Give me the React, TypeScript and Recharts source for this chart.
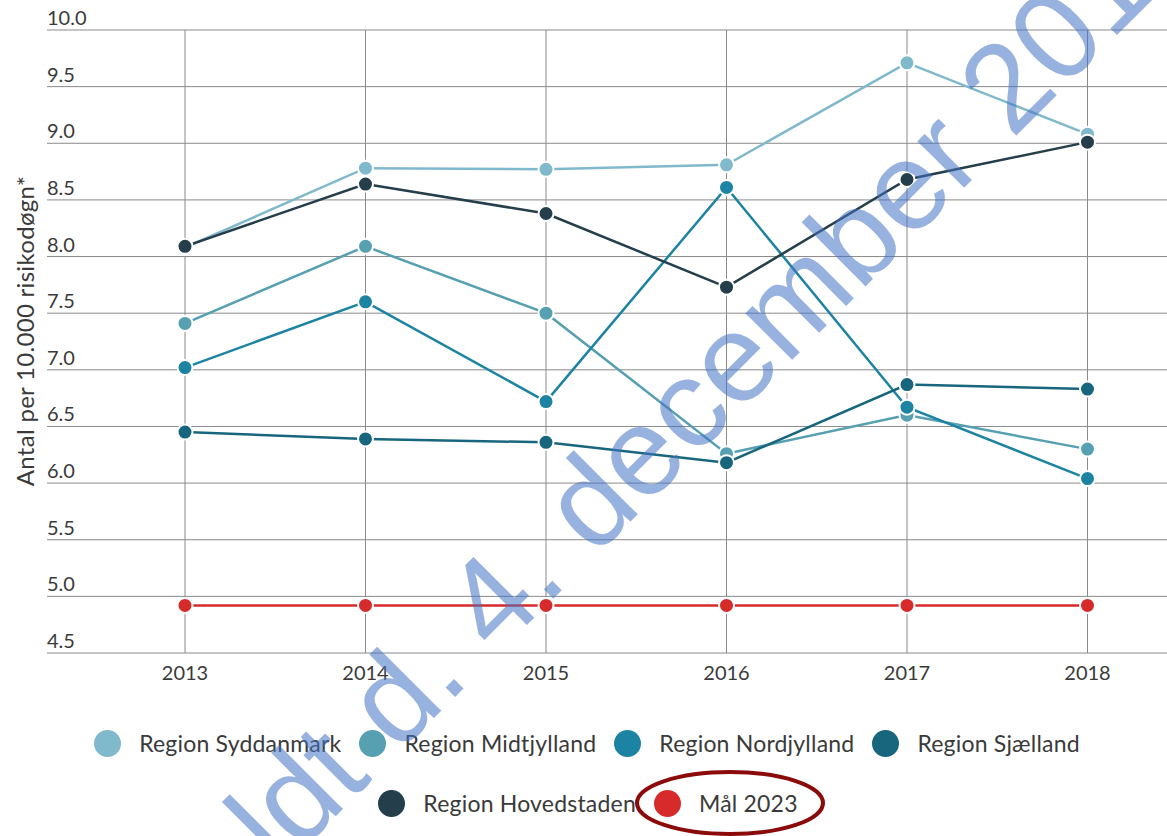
import { LineChart, Line, XAxis, YAxis, CartesianGrid } from "recharts";

const YEARS = ["2013", "2014", "2015", "2016", "2017", "2018"];
const Y_TICKS = [4.5, 5, 5.5, 6, 6.5, 7, 7.5, 8, 8.5, 9, 9.5, 10];

const SYDDANMARK = [8.08, 8.78, 8.77, 8.81, 9.71, 9.08];
const MIDTJYLLAND = [7.41, 8.09, 7.5, 6.26, 6.6, 6.3];
const NORDJYLLAND = [7.02, 7.6, 6.72, 8.61, 6.67, 6.04];
const SJAELLAND = [6.45, 6.39, 6.36, 6.18, 6.87, 6.83];
const HOVEDSTADEN = [8.09, 8.64, 8.38, 7.73, 8.68, 9.01];
const MAAL_2023 = [4.92, 4.92, 4.92, 4.92, 4.92, 4.92];

const SERIES = [
  { key: "syd", name: "Region Syddanmark", values: SYDDANMARK, color: "#80b9cc" },
  { key: "midt", name: "Region Midtjylland", values: MIDTJYLLAND, color: "#57a0b1" },
  { key: "nord", name: "Region Nordjylland", values: NORDJYLLAND, color: "#1c84a2" },
  { key: "sj", name: "Region Sjælland", values: SJAELLAND, color: "#17667d" },
  { key: "hov", name: "Region Hovedstaden", values: HOVEDSTADEN, color: "#243e4b" },
  { key: "maal", name: "Mål 2023", values: MAAL_2023, color: "#d62b2a" },
];

const data = YEARS.map((year, i) => {
  const row: Record<string, any> = { year };
  SERIES.forEach((s) => (row[s.key] = s.values[i]));
  return row;
});

const FONT = "Lato, 'Open Sans', sans-serif";
const TEXT = "#3a3a3a";

const YTick = (props: any) => {
  const { x, y, payload } = props;
  return (
    <text x={x} y={y - 5} textAnchor="start" fill={TEXT} fontSize={20} fontFamily={FONT}>
      {Number(payload.value).toFixed(1)}
    </text>
  );
};

const yTitle = () => (
  <text
    x={24}
    y={331}
    transform="rotate(-90 24 331)"
    textAnchor="middle"
    dominantBaseline="central"
    fill={TEXT}
    fontSize={24}
    letterSpacing={0.3}
    fontFamily={FONT}
  >
    Antal per 10.000 risikodøgn*
  </text>
);

function LegendItem({ name, color }: { name: string; color: string }) {
  return (
    <div style={{ display: "flex", alignItems: "center", gap: 18 }}>
      <span style={{ width: 27, height: 27, borderRadius: "50%", background: color, display: "inline-block" }} />
      <span style={{ fontSize: 23, letterSpacing: 0.2, color: TEXT, fontFamily: FONT, whiteSpace: "nowrap" }}>{name}</span>
    </div>
  );
}

export default function App() {
  const rowOne = SERIES.slice(0, 4);
  const rowTwo = SERIES.slice(4);
  return (
    <div style={{ position: "fixed", left: 0, top: 0, width: 1167, height: 836, background: "#fff", overflow: "hidden" }}>
      <LineChart width={1167} height={700} data={data} margin={{ top: 30, right: 0, left: 46, bottom: 17 }}>
        <CartesianGrid stroke="#8a8a8a" strokeWidth={1} syncWithTicks />
        <XAxis
          dataKey="year"
          padding={{ left: 138, right: 79.5 }}
          axisLine={false}
          tickLine={false}
          tickSize={6}
          tickMargin={7}
          interval={0}
          tick={{ fill: TEXT, fontSize: 20, fontFamily: FONT }}
        />
        <YAxis
          domain={[4.5, 10]}
          ticks={Y_TICKS}
          width={1}
          axisLine={false}
          tickLine={false}
          tickSize={0}
          tickMargin={0}
          interval={0}
          tick={<YTick />}
          label={yTitle}
        />
        {SERIES.map((s) => (
          <Line
            key={s.key}
            dataKey={s.key}
            name={s.name}
            stroke={s.color}
            strokeWidth={2.5}
            dot={{ r: 7.5, fill: s.color, stroke: "#fff", strokeWidth: 2 }}
            activeDot={false}
            isAnimationActive={false}
          />
        ))}
      </LineChart>

      <div style={{ position: "absolute", left: 0, top: 729, width: 1174, display: "flex", justifyContent: "center", gap: 18 }}>
        {rowOne.map((s) => (
          <LegendItem key={s.key} name={s.name} color={s.color} />
        ))}
      </div>
      <div style={{ position: "absolute", left: 0, top: 789, width: 1176, display: "flex", justifyContent: "center", gap: 18 }}>
        {rowTwo.map((s) => (
          <LegendItem key={s.key} name={s.name} color={s.color} />
        ))}
      </div>

      <svg width={1167} height={836} style={{ position: "absolute", left: 0, top: 0, pointerEvents: "none" }}>
        <ellipse cx={730} cy={803} rx={93} ry={31} fill="none" stroke="#8b0a0a" strokeWidth={4} />
        <text
          x={280}
          y={872}
          transform="rotate(-45 280 872)"
          fontFamily="'Liberation Sans', Arial, sans-serif"
          fontSize={125}
          fill="#4472c4"
          fillOpacity={0.55}
        >
          ldt d. 4. december 2019
        </text>
      </svg>
    </div>
  );
}
